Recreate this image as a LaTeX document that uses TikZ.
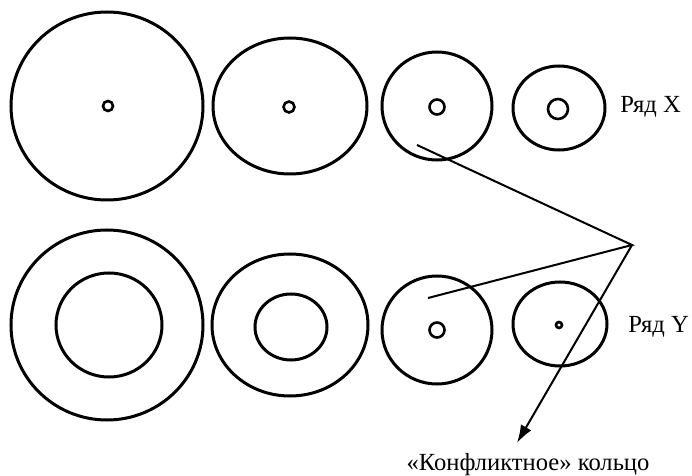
\documentclass[tikz,border=0pt]{standalone}
\usepackage{fontspec}
\setmainfont{Liberation Serif}
\usepackage{tikz}
\usetikzlibrary{arrows.meta}

\begin{document}
\begin{tikzpicture}[x=0.5pt,y=-0.5pt,every node/.style={font=\fontsize{12.3}{14}\selectfont,inner sep=0pt},
  ring/.style={line width=1.5pt},
  hole/.style={line width=1.3pt},
  pointer/.style={line width=1pt}]
\useasboundingbox (0,0) rectangle (692,476);
\draw[ring] (107,106) ellipse (96 and 94);
\draw[hole] (108,106) circle (5);
\draw[ring] (290,106) ellipse (77 and 68);
\draw[hole] (289,107) circle (5.5);
\draw[ring] (437,106) ellipse (55 and 54);
\draw[hole] (437,107) circle (7.5);
\draw[ring] (559,108) ellipse (46 and 42);
\draw[hole] (558,109) circle (10);
\node[anchor=base west] (rowX) at (620,113) {Ряд X};
\draw[ring] (107,325) ellipse (96 and 95);
\draw[ring] (109,325) ellipse (53 and 52);
\draw[ring] (290,325) ellipse (78 and 71);
\draw[ring] (291,327) ellipse (36 and 33);
\draw[ring] (437,330) ellipse (55 and 54);
\draw[hole] (437,330) circle (7.5);
\draw[ring] (560,324) ellipse (47 and 42);
\draw[hole] (559,325) circle (3);
\node[anchor=base west] (rowY) at (628,333) {Ряд Y};
\coordinate (apex) at (632,245);
\coordinate (tipX) at (417,145);
\coordinate (tipY) at (428,298);
\node[anchor=base] (conflict) at (528,470) {«Конфликтное» кольцо};
\draw[pointer] (tipX) -- (apex) -- (tipY);
\draw[pointer,-{Latex[length=9pt,width=6pt]}] (apex) -- (517,443);
\end{tikzpicture}
\end{document}
